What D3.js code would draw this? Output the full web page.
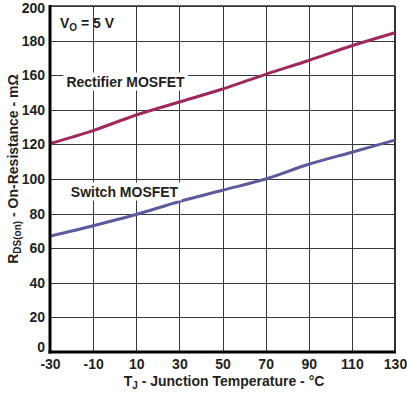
<!DOCTYPE html>
<html><head><meta charset="utf-8">
<script src="https://cdn.jsdelivr.net/npm/d3@7"></script>
<style>body{margin:0;background:#fff}svg{display:block;font-family:"Liberation Sans",Arial,sans-serif;font-weight:bold}</style>
</head><body>
<svg id="c" width="407" height="398"></svg>
<script>
const temps = [-30, -10, 10, 30, 50, 70, 90, 110, 130];
const rectifier = [120.5, 128, 137, 144.5, 152, 160.5, 168.5, 177, 184.5];
const switchFet = [67, 73, 79.5, 87, 93.5, 100, 108.5, 115.5, 122.5];
const xTicks = [-30, -10, 10, 30, 50, 70, 90, 110, 130];
const yTicks = [0, 20, 40, 60, 80, 100, 120, 140, 160, 180, 200];

const svg = d3.select("#c");
const L = 50, R = 395, T = 6, B = 352;
const x = d3.scaleLinear().domain([-30, 130]).range([L, R]);
const y = d3.scaleLinear().domain([0, 200]).range([B, T]);
const FS = 14;

// grid
svg.append("g").selectAll("line").data(xTicks).join("line")
  .attr("x1", d => Math.round(x(d)) + 0.5).attr("x2", d => Math.round(x(d)) + 0.5)
  .attr("y1", T).attr("y2", B).attr("stroke", "#383838").attr("stroke-width", 1);
svg.append("g").selectAll("line").data(yTicks).join("line")
  .attr("y1", d => Math.round(y(d)) + 0.5).attr("y2", d => Math.round(y(d)) + 0.5)
  .attr("x1", L).attr("x2", R).attr("stroke", "#383838").attr("stroke-width", 1);

// border
svg.append("line").attr("x1", L).attr("x2", R).attr("y1", T).attr("y2", T).attr("stroke", "#333").attr("stroke-width", 1.5);
svg.append("line").attr("x1", R).attr("x2", R).attr("y1", T).attr("y2", B).attr("stroke", "#333").attr("stroke-width", 2);

// label boxes
function label(txt, cx, by) {
  const t = svg.append("text").attr("x", cx).attr("y", by).attr("text-anchor", "middle")
    .attr("font-size", FS).attr("fill", "#231f20").text(txt);
  const bb = t.node().getBBox();
  svg.insert("rect", "text").attr("x", bb.x - 3).attr("y", bb.y - 1).attr("width", bb.width + 6).attr("height", bb.height + 2).attr("fill", "#fff");
  return t;
}

// lines
const line = d3.line().x((d, i) => x(temps[i])).y(d => y(d)).curve(d3.curveMonotoneX);
svg.append("path").datum(rectifier).attr("d", line).attr("fill", "none").attr("stroke", "#a0285f").attr("stroke-width", 3);
svg.append("path").datum(switchFet).attr("d", line).attr("fill", "none").attr("stroke", "#5a5a9e").attr("stroke-width", 3);

label("Rectifier MOSFET", 125.5, 86.5);
label("Switch MOSFET", 124.5, 196.5);

// VO label
const vo = svg.append("text").attr("x", 60).attr("y", 27.5).attr("font-size", FS).attr("fill", "#231f20");
vo.append("tspan").text("V");
vo.append("tspan").attr("font-size", 10).attr("dy", 3).text("O");
vo.append("tspan").attr("dy", -3).text(" = 5 V");

// axes lines
svg.append("line").attr("x1", L).attr("x2", L).attr("y1", T - 1).attr("y2", B + 1.5).attr("stroke", "#000").attr("stroke-width", 3);
svg.append("line").attr("x1", L - 1.5).attr("x2", R + 1).attr("y1", B).attr("y2", B).attr("stroke", "#000").attr("stroke-width", 3);

// tick labels
const yAxis = d3.axisLeft(y).tickValues(yTicks).tickSize(0).tickPadding(4).tickFormat(d => String(d));
const gy = svg.append("g").attr("transform", `translate(${L - 1},0)`).call(yAxis);
gy.select(".domain").remove();
gy.selectAll("text").attr("font-size", FS).attr("font-family", "Liberation Sans, Arial, sans-serif").attr("font-weight", "bold").attr("fill", "#231f20")
  .attr("dy", d => d === 0 ? "-0.05em" : d === 200 ? "0.45em" : "0.32em");

const xAxis = d3.axisBottom(x).tickValues(xTicks).tickSize(0).tickPadding(6).tickFormat(d => String(d));
const gx = svg.append("g").attr("transform", `translate(0,${B + 1})`).call(xAxis);
gx.select(".domain").remove();
gx.selectAll("text").attr("font-size", FS).attr("font-family", "Liberation Sans, Arial, sans-serif").attr("font-weight", "bold").attr("fill", "#231f20");

// axis titles
const xt = svg.append("text").attr("x", 224).attr("y", 386).attr("text-anchor", "middle").attr("font-size", 14).attr("fill", "#231f20");
xt.append("tspan").text("T");
xt.append("tspan").attr("font-size", 10).attr("dy", 3).text("J");
xt.append("tspan").attr("dy", -3).text(" - Junction Temperature - °C");

const yt = svg.append("text").attr("transform", "translate(18,169) rotate(-90)").attr("text-anchor", "middle").attr("font-size", 14).attr("fill", "#231f20");
yt.append("tspan").text("R");
yt.append("tspan").attr("font-size", 10).attr("dy", 3).text("DS(on)");
yt.append("tspan").attr("dy", -3).text(" - On-Resistance - mΩ");
</script>
</body></html>
